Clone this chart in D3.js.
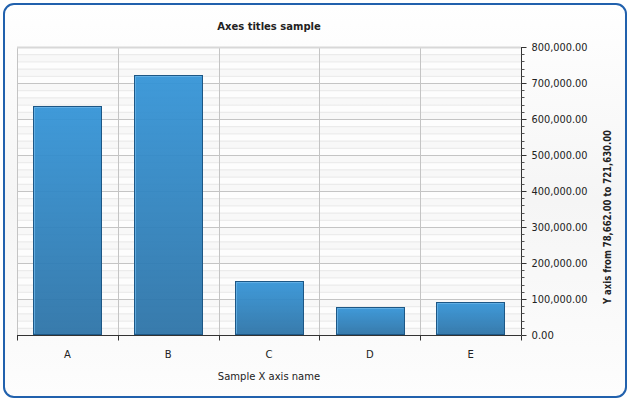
<!DOCTYPE html>
<html>
<head>
<meta charset="utf-8">
<script src="https://cdn.jsdelivr.net/npm/d3@7"></script>
<style>
    body { margin: 0; background: #fff; }
    text { font-family: "DejaVu Sans", Verdana, sans-serif; fill: #222; }
</style>
</head>
<body>
<div id="chart"></div>
<script>
const categories = ["A", "B", "C", "D", "E"];
const values = [637000, 721630, 150000, 78662, 92000];
const yTicks = [0, 100000, 200000, 300000, 400000, 500000, 600000, 700000, 800000];

const chartTitle = "Axes titles sample";
const xTitle = "Sample X axis name";
const yTitle = "Y axis from 78,662.00 to 721,630.00";

const width = 630;
const height = 401;
const plot = { left: 17, right: 521, top: 47, bottom: 335 };

const svg = d3.select("#chart")
    .append("svg")
    .attr("width", width)
    .attr("height", height);

const defs = svg.append("defs");

const bg = defs.append("linearGradient")
    .attr("id", "bg")
    .attr("x1", 0).attr("y1", 0).attr("x2", 0).attr("y2", 1);
bg.append("stop").attr("offset", "0%").attr("stop-color", "#ffffff");
bg.append("stop").attr("offset", "50%").attr("stop-color", "#f5f5f5");
bg.append("stop").attr("offset", "100%").attr("stop-color", "#fdfdfd");

const barGrad = defs.append("linearGradient")
    .attr("id", "barGrad")
    .attr("x1", 0).attr("y1", 0).attr("x2", 0).attr("y2", 1);
barGrad.append("stop").attr("offset", "0%").attr("stop-color", "#3494d7");
barGrad.append("stop").attr("offset", "100%").attr("stop-color", "#2c73a7");

// background + rounded border
svg.append("rect")
    .attr("x", 4).attr("y", 4)
    .attr("width", width - 8).attr("height", height - 8)
    .attr("rx", 10)
    .attr("fill", "url(#bg)")
    .attr("stroke", "#2161ad")
    .attr("stroke-width", 2);

const x = d3.scaleBand()
    .domain(categories)
    .range([plot.left, plot.right])
    .paddingInner(0.32)
    .paddingOuter(0.16);

const y = d3.scaleLinear()
    .domain([0, 800000])
    .range([plot.bottom, plot.top]);

const minorTicks = d3.range(0, 800001, 20000);

// plot background bands
const bandTicks = minorTicks.slice(0, -1);
svg.append("g")
    .selectAll("rect")
    .data(bandTicks)
    .enter()
    .append("rect")
    .attr("x", plot.left)
    .attr("width", plot.right - plot.left)
    .attr("y", d => y(d + 20000))
    .attr("height", d => y(d) - y(d + 20000))
    .attr("fill", (d, i) => i % 2 ? "#fdfdfd" : "#f8f8f8");

// minor grid
svg.append("g")
    .selectAll("line")
    .data(minorTicks)
    .enter()
    .append("line")
    .attr("x1", plot.left).attr("x2", plot.right)
    .attr("y1", d => y(d) + 0.5).attr("y2", d => y(d) + 0.5)
    .attr("stroke", "#e8e8e8");

// major grid
svg.append("g")
    .selectAll("line")
    .data(yTicks)
    .enter()
    .append("line")
    .attr("x1", plot.left).attr("x2", plot.right)
    .attr("y1", d => y(d) + 0.5).attr("y2", d => y(d) + 0.5)
    .attr("stroke", "#c4c4c4");

// vertical grid at band edges
const edges = categories.map(c => x(c) - x.step() * x.paddingInner() / 2);
edges.push(plot.right);
svg.append("g")
    .selectAll("line")
    .data(edges)
    .enter()
    .append("line")
    .attr("x1", d => Math.round(d) + 0.5).attr("x2", d => Math.round(d) + 0.5)
    .attr("y1", plot.top).attr("y2", plot.bottom)
    .attr("stroke", "#c4c4c4");

svg.append("line")
    .attr("x1", plot.left).attr("x2", plot.right)
    .attr("y1", plot.top + 0.5).attr("y2", plot.top + 0.5)
    .attr("stroke", "#d8d8d8")
    .attr("stroke-width", 2);

// bars
const bars = svg.append("g")
    .selectAll("g")
    .data(values)
    .enter()
    .append("g");

bars.append("rect")
    .attr("x", (d, i) => Math.round(x(categories[i])) + 0.5)
    .attr("y", d => Math.round(y(d)) + 0.5)
    .attr("width", Math.round(x.bandwidth()) - 1)
    .attr("height", d => Math.round(y(0)) - Math.round(y(d)) - 1)
    .attr("fill", "url(#barGrad)")
    .attr("fill-opacity", 0.94)
    .attr("stroke", "#1d5785");

bars.append("path")
    .attr("d", (d, i) => {
        const x0 = Math.round(x(categories[i])) + 1.5;
        const y0 = Math.round(y(d)) + 1.5;
        const w = Math.round(x.bandwidth()) - 3;
        const h = Math.round(y(0)) - Math.round(y(d)) - 3;
        return `M${x0},${y0 + h}V${y0}H${x0 + w}`;
    })
    .attr("fill", "none")
    .attr("stroke", "#6ab3e6")
    .attr("stroke-opacity", 0.8);

// x axis
const xAxis = svg.append("g")
    .attr("transform", `translate(0,${plot.bottom + 0.5})`);
xAxis.append("line")
    .attr("x1", plot.left).attr("x2", plot.right)
    .attr("stroke", "#333");
xAxis.selectAll(".tick")
    .data(edges)
    .enter()
    .append("line")
    .attr("x1", d => Math.round(d) + 0.5).attr("x2", d => Math.round(d) + 0.5)
    .attr("y1", 0).attr("y2", 5)
    .attr("stroke", "#333");
xAxis.selectAll("text")
    .data(categories)
    .enter()
    .append("text")
    .attr("x", d => x(d) + x.bandwidth() / 2)
    .attr("y", 22)
    .attr("text-anchor", "middle")
    .attr("font-size", "10px")
    .text(d => d);

// y axis on the right
const fmt = d3.format(",.2f");
const yAxis = svg.append("g")
    .attr("transform", `translate(${plot.right + 0.5},0)`);
yAxis.append("line")
    .attr("y1", plot.top).attr("y2", plot.bottom)
    .attr("stroke", "#333");
yAxis.selectAll(".minor")
    .data(minorTicks)
    .enter()
    .append("line")
    .attr("x1", 0).attr("x2", 3)
    .attr("y1", d => Math.round(y(d)) + 0.5).attr("y2", d => Math.round(y(d)) + 0.5)
    .attr("stroke", "#555");
yAxis.selectAll(".major")
    .data(yTicks)
    .enter()
    .append("line")
    .attr("x1", 0).attr("x2", 5)
    .attr("y1", d => Math.round(y(d)) + 0.5).attr("y2", d => Math.round(y(d)) + 0.5)
    .attr("stroke", "#333");
yAxis.selectAll("text")
    .data(yTicks)
    .enter()
    .append("text")
    .attr("x", 10)
    .attr("y", d => y(d) + 3.5)
    .attr("font-size", "10px")
    .attr("textLength", d => fmt(d).length * 5.6)
    .attr("lengthAdjust", "spacingAndGlyphs")
    .text(d => fmt(d));

// titles
svg.append("text")
    .attr("x", (plot.left + plot.right) / 2)
    .attr("y", 30)
    .attr("text-anchor", "middle")
    .attr("font-size", "10px")
    .attr("font-weight", "bold")
    .text(chartTitle);

svg.append("text")
    .attr("x", (plot.left + plot.right) / 2)
    .attr("y", 380)
    .attr("text-anchor", "middle")
    .attr("font-size", "10px")
    .text(xTitle);

svg.append("text")
    .attr("transform", "translate(611,217) rotate(-90)")
    .attr("text-anchor", "middle")
    .attr("font-size", "10.5px")
    .attr("font-weight", "bold")
    .attr("textLength", 174)
    .attr("lengthAdjust", "spacingAndGlyphs")
    .text(yTitle);
</script>
</body>
</html>
